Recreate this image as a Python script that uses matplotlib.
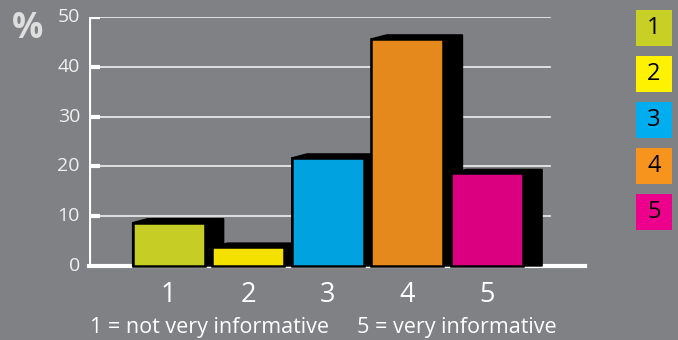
import matplotlib.pyplot as plt
from matplotlib.patches import Polygon, Rectangle

# data
categories = ['1', '2', '3', '4', '5']
values = [8.7, 3.8, 21.7, 45.6, 18.6]
bar_colors = ['#c6cd24', '#f5e100', '#00a3df', '#e5891c', '#db0080']
legend_colors = ['#c8cf25', '#fff200', '#00aeef', '#f7941d', '#ec008c']
yticks = [0, 10, 20, 30, 40, 50]
caption = '1 = not very informative     5 = very informative'

bg = '#808185'
W, H = 678, 340
fig = plt.figure(figsize=(W / 100, H / 100), dpi=100, facecolor=bg)
plt.rcParams['font.family'] = ['Open Sans', 'DejaVu Sans']

# axes placed in pixels: y=0 at 266px, y=50 at 17px, x from 89 to 585
ax = fig.add_axes([89 / W, (H - 266) / H, (585 - 89) / W, (266 - 17) / H])
ax.set_facecolor(bg)
ax.set_xlim(0, 6.23)
ax.set_ylim(0, 50)
ax.axis('off')

px_x = 6.23 / (585 - 89)   # data units per pixel, x
px_y = 50 / (266 - 17)      # data units per pixel, y

# gridlines and axis
grid_end = 5.79
for t in yticks[1:]:
    ax.plot([0, grid_end], [t, t], color='#e8e8e8', lw=1.3, zorder=1)
    ax.plot([0, 11 * px_x], [t, t], color='white', lw=3, zorder=2, solid_capstyle='butt')
ax.plot([0, 0], [0, 50.3], color='white', lw=3, zorder=2, solid_capstyle='butt')
ax.plot([0, 6.23], [0, 0], color='white', lw=3, zorder=2, clip_on=False)

for t in yticks:
    ax.text(-9 * px_x, t, str(t), ha='right', va='center', color='#f0f0f0',
            fontsize=14)

# bars with a black 3d shadow
bw = 0.905
dx = 19 * px_x
dy = 4 * px_y
for i, (v, c) in enumerate(zip(values, bar_colors)):
    xc = i + 1
    L, R = xc - bw / 2, xc + bw / 2
    shadow = Polygon([(L, 0), (L, v), (L + dx * 0.8, v + dy), (R + dx, v + dy),
                      (R + dx, 0)], closed=True, facecolor='black',
                     edgecolor='black', lw=1, zorder=3, clip_on=False)
    ax.add_patch(shadow)
    ax.add_patch(Rectangle((L, 0), bw, v, facecolor=c, edgecolor='black',
                           lw=1.8, zorder=4, clip_on=False))
    ax.text(xc, -29 * px_y, categories[i], ha='center', va='center',
            color='white', fontsize=19.5)

fig.text(323 / W, 1 - 327 / H, caption, ha='center', va='center',
         color='white', fontsize=15.5)
fig.text(28 / W, 1 - 29 / H, '%', ha='center', va='center', color='#dedede',
         fontsize=25, fontweight='bold')

# legend squares on the right
for i, (lab, c) in enumerate(zip(categories, legend_colors)):
    top = 10 + i * 46
    fig.patches.append(Rectangle((636 / W, 1 - (top + 36) / H), 36 / W, 36 / H,
                                 transform=fig.transFigure, facecolor=c,
                                 edgecolor='none'))
    fig.text(654 / W, 1 - (top + 18) / H, lab, ha='center', va='center',
             color='black', fontsize=17)

fig.savefig('out.png', dpi=100, facecolor=bg)
